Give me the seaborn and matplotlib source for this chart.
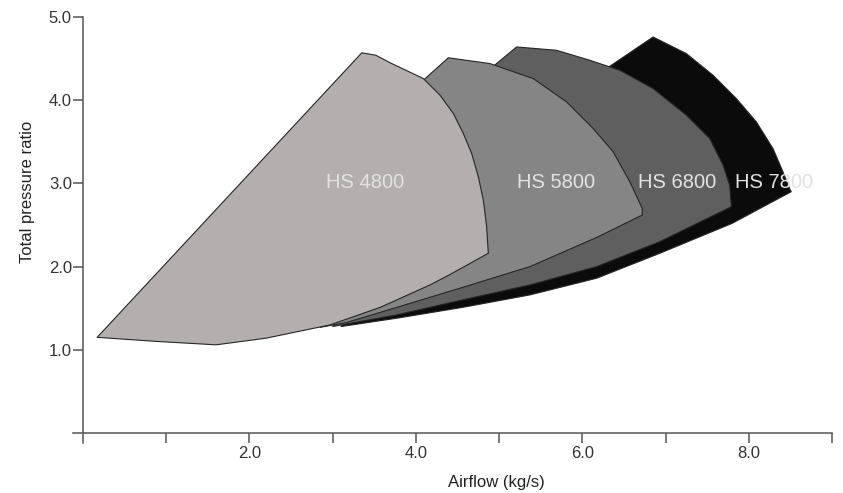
import matplotlib
matplotlib.use('Agg')
import matplotlib.pyplot as plt
import seaborn as sns

# Envelope outlines (airflow kg/s, total pressure ratio)
hs4800_x = [0.17, 3.35, 3.52, 3.69, 4.09, 4.29, 4.45, 4.57, 4.67, 4.75, 4.81, 4.85, 4.87,
            4.40, 4.17, 3.57, 2.97, 2.20, 1.60, 0.90]
hs4800_y = [1.15, 4.57, 4.54, 4.45, 4.26, 4.06, 3.84, 3.60, 3.36, 3.08, 2.80, 2.48, 2.16,
            1.90, 1.78, 1.51, 1.30, 1.14, 1.06, 1.10]

hs5800_x = [4.39, 4.89, 5.41, 5.81, 6.13, 6.37, 6.57, 6.72, 6.72,
            6.17, 5.37, 4.56, 3.77, 3.17, 2.85, 3.30, 4.00]
hs5800_y = [4.51, 4.44, 4.26, 3.98, 3.66, 3.38, 3.02, 2.70, 2.62,
            2.35, 2.00, 1.75, 1.51, 1.33, 1.27, 2.50, 4.16]

hs6800_x = [5.21, 5.69, 6.09, 6.45, 6.85, 7.25, 7.53, 7.69, 7.77, 7.79,
            6.93, 6.17, 5.37, 4.56, 3.77, 3.00, 4.00, 4.80]
hs6800_y = [4.64, 4.60, 4.48, 4.36, 4.14, 3.82, 3.54, 3.22, 2.98, 2.72,
            2.30, 2.00, 1.78, 1.60, 1.42, 1.28, 2.50, 4.30]

hs7800_x = [6.85, 7.25, 7.57, 7.85, 8.09, 8.29, 8.41, 8.49, 8.51,
            8.21, 7.80, 6.93, 6.17, 5.37, 4.56, 3.77, 3.10, 4.50, 6.20]
hs7800_y = [4.76, 4.56, 4.30, 4.02, 3.74, 3.42, 3.14, 2.94, 2.90,
            2.74, 2.52, 2.16, 1.86, 1.66, 1.51, 1.38, 1.28, 3.00, 4.32]

models = ['HS 7800', 'HS 6800', 'HS 5800', 'HS 4800']
colors = ['#0b0b0b', '#5f5f5f', '#858585', '#b3afae']
label_x = [8.30, 7.14, 5.68, 3.39]
label_y = [2.94, 2.94, 2.94, 2.94]

x_ticks = [1, 2, 3, 4, 5, 6, 7, 8, 9]
x_ticklabels = ['', '2.0', '', '4.0', '', '6.0', '', '8.0', '']
y_ticks = [1, 2, 3, 4, 5]
y_ticklabels = ['1.0', '2.0', '3.0', '4.0', '5.0']

sns.set_style('ticks')
plt.rcParams['font.family'] = ['Liberation Sans', 'DejaVu Sans']

fig, ax = plt.subplots(figsize=(8.43, 4.93), dpi=100)
fig.subplots_adjust(left=0.0866, right=0.987, bottom=0.1014, top=0.9655)

shapes = [(hs7800_x, hs7800_y), (hs6800_x, hs6800_y),
          (hs5800_x, hs5800_y), (hs4800_x, hs4800_y)]
for (xs, ys), col in zip(shapes, colors):
    ax.fill(xs, ys, facecolor=col, edgecolor='#262626', linewidth=0.8,
            joinstyle='round')

for name, lx, ly in zip(models, label_x, label_y):
    ax.text(lx, ly, name, color='#e2e2e2', fontsize=14.5,
            ha='center', va='baseline')

ax.set_xlim(-0.12, 9.0)
ax.set_ylim(-0.12, 5.0)

sns.despine(ax=ax)
for side in ['left', 'bottom']:
    ax.spines[side].set_position(('data', 0))
    ax.spines[side].set_color('#555555')
    ax.spines[side].set_linewidth(1.1)

ax.set_xticks(x_ticks)
ax.set_xticklabels(x_ticklabels)
ax.set_yticks(y_ticks)
ax.set_yticklabels(y_ticklabels)
ax.tick_params(axis='both', direction='out', length=7, width=1.1,
               color='#555555', labelcolor='#333333', labelsize=12,
               bottom=True, left=True)
ax.tick_params(axis='x', pad=2)
ax.tick_params(axis='y', pad=1)

ax.set_xlabel('Airflow (kg/s)', fontsize=12, color='#222222')
ax.set_ylabel('Total pressure ratio', fontsize=12, color='#222222')
ax.xaxis.set_label_coords(0.558, -0.075)
ax.yaxis.set_label_coords(-0.05, 0.59)

fig.savefig('out.png', dpi=100)
